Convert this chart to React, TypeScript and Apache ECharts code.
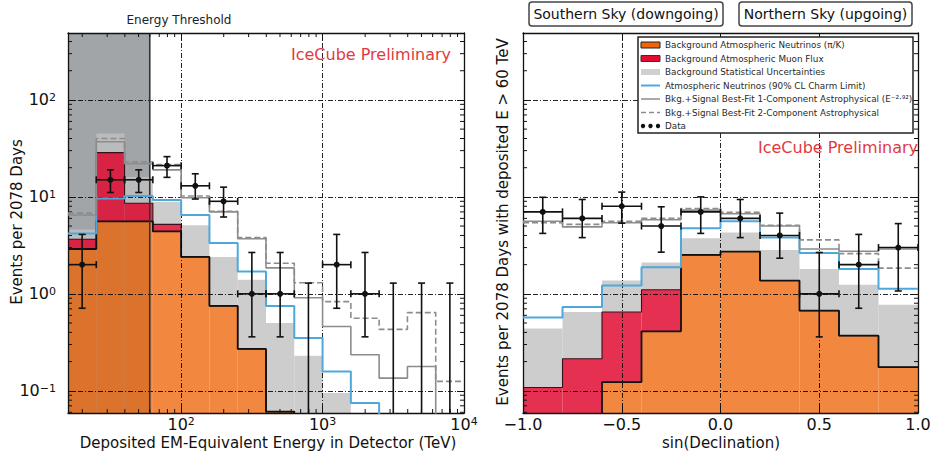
import React, { useEffect, useRef } from 'react';
import * as echarts from 'echarts';

// ---------- data: left panel (deposited energy, TeV) ----------
const energyEdges = [15.85, 25.12, 39.81, 63.1, 100, 158.5, 251.2, 398.1, 631, 1000, 1585, 2512, 3981, 6310, 10000];
const energyAtmNu = [2.9, 5.6, 5.6, 4.4, 2.4, 0.75, 0.27, 0.061, 0, 0, 0, 0, 0, 0];
const energyMuon = [0.76, 23, 3.0, 0.8, 0, 0, 0, 0, 0, 0, 0, 0, 0, 0];
const energyStatTop = [4.6, 45, 16, 8.9, 5.1, 2.4, 1.4, 0.5, 0.23, 0.095, 0, 0, 0, 0];
const energyCharm = [4.2, 9.6, 10.2, 9.3, 6.5, 3.35, 1.7, 0.75, 0.35, 0.158, 0.075, 0, 0, 0];
const energyOneComp = [6.5, 37, 22, 19, 9.8, 7.0, 3.7, 1.85, 0.91, 0.46, 0.235, 0.135, 0.178, 0];
const energyTwoComp = [6.8, 40, 23, 21.5, 10.2, 7.1, 3.8, 2.07, 1.3, 0.83, 0.56, 0.43, 0.64, 0.125];
const energyData = [2, 15, 15, 21, 13, 9, 1, 1, 0, 2, 1, 0, 0, 0];
const energyDataHi = [4.1, 19, 19, 26, 17.3, 12.6, 2.67, 2.67, 1.29, 4.1, 2.67, 1.29, 1.29, 1.29];
const energyDataLo = [0.71, 11.1, 11.1, 15.9, 9.5, 6.2, 0.36, 0.36, 0, 0.71, 0.36, 0, 0, 0];
const energyThreshold = 60;

// ---------- data: right panel (sin declination) ----------
const decEdges = [-1, -0.8, -0.6, -0.4, -0.2, 0, 0.2, 0.4, 0.6, 0.8, 1];
const decAtmNu = [0, 0, 0.123, 0.41, 2.52, 2.73, 1.37, 0.67, 0.37, 0.175];
const decMuon = [0.108, 0.214, 0.527, 0.69, 0, 0, 0, 0, 0, 0];
const decStatTop = [0.44, 0.65, 1.37, 2.1, 3.75, 4.3, 2.84, 1.8, 1.24, 0.77];
const decCharm = [0.57, 0.73, 1.22, 1.88, 4.75, 5.6, 3.8, 2.63, 1.8, 1.125];
const decOneComp = [5.6, 4.9, 5.4, 5.8, 7.3, 6.7, 5.0, 2.9, 2.75, 2.9];
const decTwoComp = [5.4, 5.2, 5.6, 6.0, 7.6, 6.95, 5.1, 3.6, 2.6, 1.84];
const decData = [7, 6, 8, 5, 7, 6, 4, 1, 2, 3];
const decDataHi = [9.9, 9.4, 11.2, 7.9, 10, 9.4, 6.8, 2.67, 4.1, 5.3];
const decDataLo = [4.2, 3.8, 5.35, 2.69, 4.2, 3.8, 2.33, 0.36, 0.71, 1.07];
const decTickLabels = ['−1.0', '−0.5', '0.0', '0.5', '1.0'];

// ---------- axis ranges ----------
const Y_MIN = 0.059;
const Y_MAX = 490;

const legendLabels = [
  'Background Atmospheric Neutrinos (π/K)',
  'Background Atmospheric Muon Flux',
  'Background Statistical Uncertainties',
  'Atmospheric Neutrinos (90% CL Charm Limit)',
  'Bkg.+Signal Best-Fit 1-Component Astrophysical (E⁻²·⁹²)',
  'Bkg.+Signal Best-Fit 2-Component Astrophysical',
  'Data',
];

const FONT = 'DejaVu Sans';
const ORANGE = 'rgb(238,100,6)';
const RED = 'rgb(226,12,50)';
const GRAYBAND = 'rgb(192,192,192)';
const BLUE = '#4fa8dc';
const MODEL = '#8c8c8c';
const THRESH_BG = '#a1a5a8';

const below = Y_MIN * 0.3;
const lo = (v: number) => (v > 0 ? v : below);

function stepData(edges: number[], vals: number[]) {
  const pts: number[][] = vals.map((v, i) => [edges[i], lo(v)]);
  pts.push([edges[edges.length - 1], lo(vals[vals.length - 1])]);
  return pts;
}

function bandRows(edges: number[], bottoms: number[], tops: number[]) {
  return tops.map((t, i) => [edges[i], edges[i + 1], bottoms[i], t]);
}

function bandSeries(ax: number, rows: number[][], color: string, opacity: number, z: number) {
  return {
    type: 'custom',
    xAxisIndex: ax,
    yAxisIndex: ax,
    z,
    silent: true,
    clip: true,
    data: rows,
    renderItem: (params: any, api: any) => {
      const x0 = api.value(0), x1 = api.value(1);
      const b = Math.max(api.value(2), Y_MIN), t = api.value(3);
      if (!(t > b)) return null;
      const p0 = api.coord([x0, t]);
      const p1 = api.coord([x1, b]);
      return {
        type: 'rect',
        shape: { x: p0[0], y: p0[1], width: p1[0] - p0[0], height: p1[1] - p0[1] },
        style: { fill: color, opacity },
      };
    },
  };
}

function stepSeries(ax: number, edges: number[], vals: number[], color: string, width: number, z: number, dashed = false) {
  return {
    type: 'line',
    xAxisIndex: ax,
    yAxisIndex: ax,
    z,
    silent: true,
    step: 'end',
    symbol: 'none',
    data: stepData(edges, vals),
    lineStyle: { color, width, type: dashed ? [6, 3] : 'solid' },
  };
}

function dataSeries(ax: number, edges: number[], n: number[], hi: number[], lw: number[]) {
  const rows = n.map((v, i) => [edges[i], edges[i + 1], v, lw[i], hi[i]]);
  return {
    type: 'custom',
    xAxisIndex: ax,
    yAxisIndex: ax,
    z: 8,
    silent: true,
    clip: true,
    data: rows,
    renderItem: (params: any, api: any) => {
      const x0 = api.value(0), x1 = api.value(1), v = api.value(2), l = api.value(3), h = api.value(4);
      const a = api.coord([x0, 1]);
      const b = api.coord([x1, 1]);
      const xc = (a[0] + b[0]) / 2;
      const yh = api.coord([x0, h])[1];
      const yl = l > 0 ? api.coord([x0, l])[1] : api.coord([x0, Y_MIN])[1];
      const st = { stroke: '#111', lineWidth: 1.6 };
      const cap = 3.5;
      const children: any[] = [
        { type: 'line', shape: { x1: xc, y1: yh, x2: xc, y2: yl }, style: st },
        { type: 'line', shape: { x1: xc - cap, y1: yh, x2: xc + cap, y2: yh }, style: st },
      ];
      if (l > 0) children.push({ type: 'line', shape: { x1: xc - cap, y1: yl, x2: xc + cap, y2: yl }, style: st });
      if (v > 0) {
        const yv = api.coord([x0, v])[1];
        children.push(
          { type: 'line', shape: { x1: a[0], y1: yv, x2: b[0], y2: yv }, style: st },
          { type: 'line', shape: { x1: a[0], y1: yv - cap, x2: a[0], y2: yv + cap }, style: st },
          { type: 'line', shape: { x1: b[0], y1: yv - cap, x2: b[0], y2: yv + cap }, style: st },
          { type: 'circle', shape: { cx: xc, cy: yv, r: 3 }, style: { fill: '#111' } }
        );
      }
      return { type: 'group', children };
    },
  };
}

function minorTickSeries(ax: number, vals: number[], dir: 'x' | 'y', ref: number) {
  return {
    type: 'custom',
    xAxisIndex: ax,
    yAxisIndex: ax,
    z: 7,
    silent: true,
    data: vals.map((v) => (dir === 'y' ? [ref, v] : [v, ref])),
    renderItem: (params: any, api: any) => {
      const cs = params.coordSys;
      const p = api.coord([api.value(0), api.value(1)]);
      const st = { stroke: '#111', lineWidth: 1 };
      const L = 4;
      if (dir === 'y') {
        return {
          type: 'group',
          children: [
            { type: 'line', shape: { x1: cs.x, y1: p[1], x2: cs.x + L, y2: p[1] }, style: st },
            { type: 'line', shape: { x1: cs.x + cs.width, y1: p[1], x2: cs.x + cs.width - L, y2: p[1] }, style: st },
          ],
        };
      }
      return {
        type: 'group',
        children: [
          { type: 'line', shape: { x1: p[0], y1: cs.y + cs.height, x2: p[0], y2: cs.y + cs.height - L }, style: st },
          { type: 'line', shape: { x1: p[0], y1: cs.y, x2: p[0], y2: cs.y + L }, style: st },
        ],
      };
    },
  };
}

function logMinors(min: number, max: number) {
  const out: number[] = [];
  for (let d = -3; d <= 4; d++) {
    for (let m = 2; m <= 9; m++) {
      const v = m * Math.pow(10, d);
      if (v > min && v < max) out.push(v);
    }
  }
  return out;
}

function isPow10(v: number) {
  const l = Math.log10(v);
  return Math.abs(l - Math.round(l)) < 1e-6;
}
function powLabel(v: number) {
  if (!isPow10(v)) return '';
  const e = Math.round(Math.log10(v));
  return `{b|10}{s|${e < 0 ? '−' + -e : e}}`;
}
const powRich = {
  b: { fontSize: 16, lineHeight: 16, verticalAlign: 'bottom', fontFamily: FONT, color: '#111' },
  s: { fontSize: 11, lineHeight: 8, verticalAlign: 'top', fontFamily: FONT, color: '#111' },
};

const gridLine = { show: true, lineStyle: { color: '#000', width: 1, type: [5, 2, 1, 2], opacity: 0.85 } };
const axLine = { show: true, onZero: false, lineStyle: { color: '#111', width: 1.3 } };
const majorTick = { show: true, inside: true, length: 7, lineStyle: { color: '#111', width: 1 } };

function buildOption() {
  const eMin = energyEdges[0];
  const eMax = energyEdges[energyEdges.length - 1];
  const energyStackTop = energyAtmNu.map((v, i) => v + energyMuon[i]);
  const decStackTop = decAtmNu.map((v, i) => v + decMuon[i]);
  const zeros = (n: number) => new Array(n).fill(0);

  const logY = (gi: number, pos: 'left' | 'right', labels: boolean, split: boolean) => ({
    type: 'log', gridIndex: gi, position: pos, min: Y_MIN, max: Y_MAX, logBase: 10, z: 6,
    axisLine: axLine, axisTick: majorTick, splitLine: split ? gridLine : { show: false },
    axisLabel: labels ? { show: true, margin: 12, formatter: powLabel, rich: powRich } : { show: false },
  });

  const legendY0 = 45;
  const legendDy = 13.5;
  const legendEls: any[] = [
    { type: 'rect', z: 20, shape: { x: 638, y: 37, width: 275, height: 96 }, style: { fill: '#fff', stroke: '#222', lineWidth: 1.5 } },
  ];
  legendLabels.forEach((t, i) => {
    const y = legendY0 + i * legendDy;
    legendEls.push({ type: 'text', z: 21, x: 665, y, style: { text: t, fontSize: 8.8, fontFamily: FONT, fill: '#2a2a2a', align: 'left', verticalAlign: 'middle', textAlign: 'left', textVerticalAlign: 'middle' } });
    if (i === 0) legendEls.push({ type: 'rect', z: 21, shape: { x: 641, y: y - 3, width: 19, height: 6 }, style: { fill: ORANGE, stroke: '#222', lineWidth: 1 } });
    if (i === 1) legendEls.push({ type: 'rect', z: 21, shape: { x: 641, y: y - 3, width: 19, height: 6 }, style: { fill: RED, stroke: '#333', lineWidth: 1 } });
    if (i === 2) legendEls.push({ type: 'rect', z: 21, shape: { x: 641, y: y - 3, width: 19, height: 6 }, style: { fill: '#d0d0d0' } });
    if (i === 3) legendEls.push({ type: 'line', z: 21, shape: { x1: 641, y1: y, x2: 660, y2: y }, style: { stroke: BLUE, lineWidth: 2 } });
    if (i === 4) legendEls.push({ type: 'line', z: 21, shape: { x1: 641, y1: y, x2: 660, y2: y }, style: { stroke: MODEL, lineWidth: 1.5 } });
    if (i === 5) legendEls.push({ type: 'line', z: 21, shape: { x1: 641, y1: y, x2: 660, y2: y }, style: { stroke: MODEL, lineWidth: 1.5, lineDash: [5, 3] } });
    if (i === 6) {
      [643, 650.5, 658].forEach((cx) => legendEls.push({ type: 'circle', z: 21, shape: { cx, cy: y, r: 2.2 }, style: { fill: '#111' } }));
    }
  });

  const txt = (text: string, x: number, y: number, size: number, fill: string, extra: any = {}) => ({
    type: 'text', z: 20, x, y, ...extra,
    style: { text, fontSize: size, fontFamily: FONT, fill, align: 'center', verticalAlign: 'middle', textAlign: 'center', textVerticalAlign: 'middle', ...(extra.style || {}) },
  });

  return {
    animation: false,
    backgroundColor: '#fff',
    grid: [
      { left: 68, top: 33, width: 396, height: 380 },
      { left: 523, top: 33, width: 395, height: 380 },
    ],
    xAxis: [
      {
        type: 'log', gridIndex: 0, position: 'bottom', min: eMin, max: eMax, logBase: 10, z: 6,
        axisLine: axLine, axisTick: majorTick, splitLine: gridLine,
        axisLabel: { show: true, margin: 3, formatter: powLabel, rich: powRich },
      },
      {
        type: 'log', gridIndex: 0, position: 'top', min: eMin, max: eMax, logBase: 10, z: 6,
        axisLine: axLine, axisTick: majorTick, splitLine: { show: false }, axisLabel: { show: false },
      },
      {
        type: 'value', gridIndex: 1, position: 'bottom', min: -1, max: 1, interval: 0.5, z: 6,
        axisLine: axLine, axisTick: majorTick, splitLine: gridLine,
        axisLabel: {
          show: true, margin: 3, fontSize: 16, lineHeight: 16, fontFamily: FONT, color: '#111',
          formatter: (v: number) => decTickLabels[Math.round((v + 1) / 0.5)] ?? '',
        },
      },
      {
        type: 'value', gridIndex: 1, position: 'top', min: -1, max: 1, interval: 0.5, z: 6,
        axisLine: axLine, axisTick: majorTick, splitLine: { show: false }, axisLabel: { show: false },
      },
    ],
    yAxis: [logY(0, 'left', true, true), logY(0, 'right', false, false), logY(1, 'left', false, true), logY(1, 'right', false, false)],
    series: [
      // threshold shading (left)
      {
        type: 'custom', xAxisIndex: 0, yAxisIndex: 0, z: 1, silent: true, clip: true,
        data: [[eMin, energyThreshold]],
        renderItem: (params: any, api: any) => {
          const p0 = api.coord([api.value(0), Y_MAX]);
          const p1 = api.coord([api.value(1), Y_MIN]);
          return { type: 'rect', shape: { x: p0[0], y: p0[1], width: p1[0] - p0[0], height: p1[1] - p0[1] }, style: { fill: THRESH_BG } };
        },
      },
      // left fills
      bandSeries(0, bandRows(energyEdges, energyStackTop, energyStatTop), GRAYBAND, 0.8, 2),
      bandSeries(0, bandRows(energyEdges, energyAtmNu, energyStackTop), RED, 0.85, 2),
      bandSeries(0, bandRows(energyEdges, zeros(energyAtmNu.length), energyAtmNu), ORANGE, 0.77, 2),
      stepSeries(0, energyEdges, energyStackTop, '#3a1018', 1.1, 3),
      stepSeries(0, energyEdges, energyAtmNu, '#111', 1.8, 3),
      // threshold line
      {
        type: 'custom', xAxisIndex: 0, yAxisIndex: 0, z: 7, silent: true, clip: true,
        data: [[energyThreshold, 1]],
        renderItem: (params: any, api: any) => {
          const p0 = api.coord([api.value(0), Y_MAX]);
          const p1 = api.coord([api.value(0), Y_MIN]);
          return { type: 'line', shape: { x1: p0[0], y1: p0[1], x2: p1[0], y2: p1[1] }, style: { stroke: '#333', lineWidth: 1.6 } };
        },
      },
      stepSeries(0, energyEdges, energyCharm, BLUE, 2, 7),
      stepSeries(0, energyEdges, energyOneComp, MODEL, 1.6, 7),
      stepSeries(0, energyEdges, energyTwoComp, MODEL, 1.6, 7, true),
      dataSeries(0, energyEdges, energyData, energyDataHi, energyDataLo),
      minorTickSeries(0, logMinors(Y_MIN, Y_MAX), 'y', 100),
      minorTickSeries(0, logMinors(eMin, eMax), 'x', 1),

      // right fills
      bandSeries(2, bandRows(decEdges, decStackTop, decStatTop), GRAYBAND, 0.8, 2),
      bandSeries(2, bandRows(decEdges, decAtmNu, decStackTop), RED, 0.85, 2),
      bandSeries(2, bandRows(decEdges, zeros(decAtmNu.length), decAtmNu), ORANGE, 0.77, 2),
      stepSeries(2, decEdges, decStackTop, '#3a1018', 1.1, 3),
      stepSeries(2, decEdges, decAtmNu, '#111', 1.8, 3),
      stepSeries(2, decEdges, decCharm, BLUE, 2, 7),
      stepSeries(2, decEdges, decOneComp, MODEL, 1.6, 7),
      stepSeries(2, decEdges, decTwoComp, MODEL, 1.6, 7, true),
      dataSeries(2, decEdges, decData, decDataHi, decDataLo),
      minorTickSeries(2, logMinors(Y_MIN, Y_MAX), 'y', 0),
    ],
    graphic: [
      txt('Energy Threshold', 179, 20, 12, '#222'),
      txt('IceCube Preliminary', 371, 54, 16, '#e23a40'),
      txt('IceCube Preliminary', 838, 147, 16, '#e23a40'),
      { type: 'rect', z: 20, shape: { x: 529, y: 2, width: 194, height: 24, r: 3 }, style: { fill: '#fff', stroke: '#444', lineWidth: 1.5 } },
      txt('Southern Sky (downgoing)', 626, 14, 14, '#111'),
      { type: 'rect', z: 20, shape: { x: 739, y: 2, width: 173, height: 24, r: 3 }, style: { fill: '#fff', stroke: '#444', lineWidth: 1.5 } },
      txt('Northern Sky (upgoing)', 825.5, 14, 14, '#111'),
      txt('Events per 2078 Days', 17, 222, 15, '#111', { rotation: Math.PI / 2 }),
      txt('Events per 2078 Days with deposited E > 60 TeV', 503, 222, 15, '#111', { rotation: Math.PI / 2 }),
      txt('Deposited EM-Equivalent Energy in Detector (TeV)', 268, 443, 15, '#111'),
      txt('sin(Declination)', 721, 443, 15, '#111'),
      ...legendEls,
    ],
  };
}

export default function App() {
  const ref = useRef<HTMLDivElement>(null);
  useEffect(() => {
    if (!ref.current) return;
    const chart = echarts.init(ref.current, undefined, { renderer: 'svg' });
    chart.setOption(buildOption() as any);
    return () => chart.dispose();
  }, []);
  return <div ref={ref} style={{ position: 'fixed', left: 0, top: 0, width: 941, height: 458, background: '#fff' }} />;
}
